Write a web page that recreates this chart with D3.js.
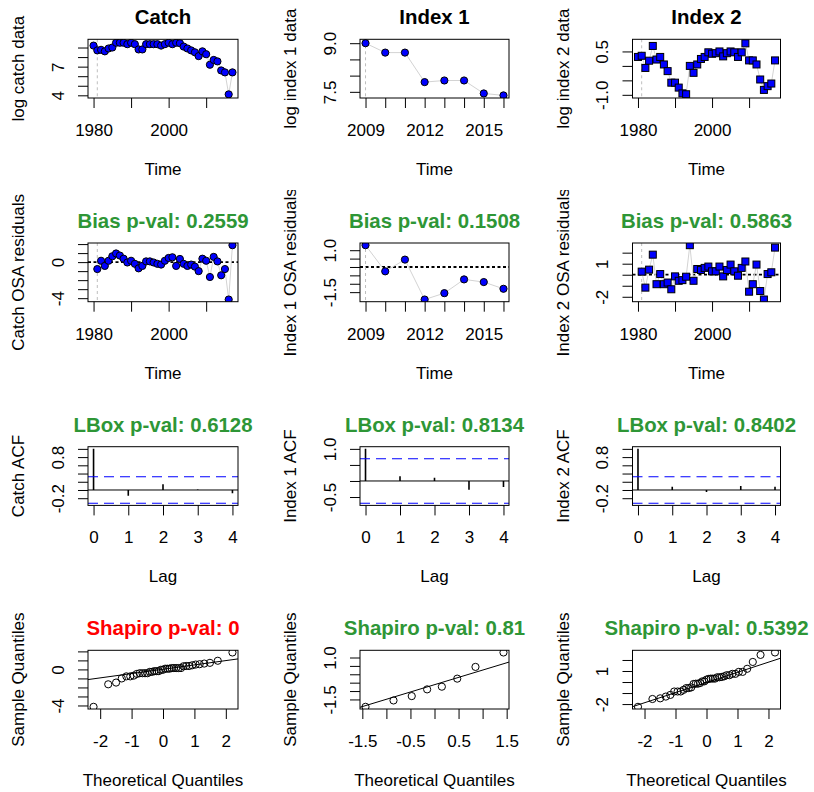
<!DOCTYPE html>
<html>
<head>
<meta charset="utf-8">
<title>OSA residual diagnostics</title>
<script src="https://cdnjs.cloudflare.com/ajax/libs/d3/7.8.5/d3.min.js"></script>
<style>
  html, body { margin: 0; padding: 0; background: #fff; }
  #chart svg { display: block; }
</style>
</head>
<body>
<div id="chart"></div>
<script>
// values
const catchYears = [1980, 1981, 1982, 1983, 1984, 1985, 1986, 1987, 1988, 1989, 1990, 1991, 1992,
  1993, 1994, 1995, 1996, 1997, 1998, 1999, 2000, 2001, 2002, 2003, 2004, 2005, 2006, 2007,
  2008, 2009, 2010, 2011, 2012, 2013, 2014, 2015, 2016, 2017]
const catchLog = [9.2, 8.7, 8.76, 8.6, 8.9, 9.0, 9.5, 9.5, 9.5, 9.35, 9.5, 9.35, 8.8, 8.8,
  9.35, 9.35, 9.35, 9.35, 9.2, 9.35, 9.5, 9.35, 9.5, 9.45, 9.1, 8.9, 8.7, 8.5, 8.1, 8.6, 8.3,
  7.2, 7.7, 7.55, 6.6, 6.4, 4.1, 6.4]
const residYears = [1981, 1982, 1983, 1984, 1985, 1986, 1987, 1988, 1989, 1990, 1991, 1992,
  1993, 1994, 1995, 1996, 1997, 1998, 1999, 2000, 2001, 2002, 2003, 2004, 2005, 2006, 2007,
  2008, 2009, 2010, 2011, 2012, 2013, 2014, 2015, 2016, 2017]
const catchResid = [-0.77, 0.15, -0.42, 0.15, 0.65, 0.96, 0.73, 0.38, -0.04, 0.15, -0.19,
  -0.69, -0.42, 0.08, 0.08, -0.04, -0.19, -0.27, 0.15, 0.46, 0.54, -0.42, 0.35, -0.19, -0.42,
  -0.27, -0.5, -1.0, 0.38, 0.15, -1.65, 0.58, 0.08, -1.46, -0.77, -4.15, 1.88]

const index1Years = [2009, 2010, 2011, 2012, 2013, 2014, 2015, 2016]
const index1Log = [9.0, 8.71, 8.71, 7.8, 7.85, 7.85, 7.45, 7.39]
const index1Resid = [1.3, -0.26, 0.44, -1.94, -1.56, -0.74, -0.9, -1.3]

const index2Years = catchYears
const index2Log = [0.31, 0.35, -0.07, 0.18, 0.69, 0.22, 0.31, 0.05, -0.18, -0.58, -0.58,
  -0.75, -0.95, -0.98, 0.0, -0.24, 0.05, 0.24, 0.31, 0.47, 0.42, 0.44, 0.5, 0.33, 0.44, 0.5,
  0.47, 0.31, 0.47, 0.78, 0.19, 0.19, 0.05, -0.47, -0.83, -0.7, -0.61, 0.19]
const index2Resid = [0.28, -1.17, 0.46, 1.82, -0.86, 0.06, -0.86, -0.71, -1.32, -0.15, -0.55,
  -0.49, -0.18, 2.68, -0.55, 0.52, 0.43, 0.62, 0.74, 0.31, 0.31, 0.74, -0.15, 0.43, 0.92,
  0.31, -0.09, 0.62, 1.2, -1.54, -0.86, 0.92, -1.48, -2.25, 0.06, 0.22, 2.46]

const lags = [0, 1, 2, 3, 4]
const catchAcf = [1, -0.14, 0.14, 0.01, -0.08]
const index1Acf = [1, 0.15, 0.1, -0.27, -0.19]
const index2Acf = [1, 0.08, -0.05, 0.1, 0.08]
const acfBounds = [0.322, 0.693, 0.322]

// theoretical normal quantiles on the qq x axis (37 and 8 points)
const theo37 = [-2.211, -1.744, -1.494, -1.313, -1.167, -1.042, -0.932, -0.832, -0.740, -0.653,
  -0.572, -0.494, -0.419, -0.346, -0.275, -0.204, -0.136, -0.068, 0, 0.068, 0.136, 0.204,
  0.275, 0.346, 0.419, 0.494, 0.572, 0.653, 0.740, 0.832, 0.932, 1.042, 1.167, 1.313, 1.494,
  1.744, 2.211]
const theo8 = [-1.434, -0.852, -0.473, -0.153, 0.153, 0.473, 0.852, 1.434]
const qqLines = [[0.02, 0.48], [-0.62, 0.87], [-0.04, 0.92]] // intercept, slope

const colTitles = ['Catch', 'Index 1', 'Index 2']
const biasP = ['0.2559', '0.1508', '0.5863']
const lboxP = ['0.6128', '0.8134', '0.8402']
const shapiroP = ['0', '0.81', '0.5392']
const shapiroCol = ['red', 'green', 'green']

// tick values and the labels R kept
const yearTicks = [1980, 1990, 2000, 2010]
const yearTickText = ['1980', '', '2000', '']
const idx1YearTicks = [2009, 2010, 2011, 2012, 2013, 2014, 2015, 2016]
const idx1YearTickText = ['2009', '', '', '2012', '', '', '2015', '']
const lagTickText = ['0', '1', '2', '3', '4']
const qqTicks2 = [-2, -1, 0, 1, 2]
const qqTicks2Text = ['-2', '-1', '0', '1', '2']
const qqTicks15 = [-1.5, -1, -0.5, 0, 0.5, 1, 1.5]
const qqTicks15Text = ['-1.5', '', '-0.5', '', '0.5', '', '1.5']

const catchLogTicks = [4, 5, 6, 7, 8, 9]
const catchLogTickText = ['4', '', '', '7', '', '']
const idx1LogTicks = [7.5, 8, 8.5, 9]
const idx1LogTickText = ['7.5', '', '', '9.0']
const idx2LogTicks = [-1, -0.5, 0, 0.5]
const idx2LogTickText = ['-1.0', '', '', '0.5']
const catchResTicks = [-4, -3, -2, -1, 0, 1, 2]
const catchResTickText = ['-4', '', '', '', '0', '', '']
const idx1ResTicks = [-1.5, -1, -0.5, 0, 0.5, 1]
const idx1ResTickText = ['-1.5', '', '', '', '', '1.0']
const idx2ResTicks = [-2, -1, 0, 1, 2]
const idx2ResTickText = ['-2', '', '', '1', '']
const acfTicks = [-0.2, 0, 0.2, 0.4, 0.6, 0.8, 1.0]
const acfTickText = ['-0.2', '', '', '', '', '0.8', '']
const acf1Ticks = [-0.5, 0, 0.5, 1.0]
const acf1TickText = ['-0.5', '', '', '1.0']

// ---- layout ----
const W = 814, H = 792
const colW = W / 3, rowH = 203.67
const colLeft = [88, 360, 632.5]
const colRight = [238, 509, 780.5]
const rowTop = [39.3, 243, 446.7, 650.3]
const boxH = 58.7
const figAbove = 53
const FONT = '"Liberation Sans", Arial, sans-serif'
const AXIS_SIZE = 17, TITLE_SIZE = 20.4
const GREEN = '#2e9636'

const svg = d3.select('#chart').append('svg')
  .attr('width', W).attr('height', H)
  .attr('font-family', FONT)
const defs = svg.append('defs')
svg.append('rect').attr('width', W).attr('height', H).attr('fill', '#fff')

const pad = (vals) => {
  const [a, b] = d3.extent(vals)
  const e = (b - a) * 0.04
  return [a - e, b + e]
}

function makePanel(r, c, opt) {
  const x0 = colLeft[c], x1 = colRight[c]
  const y0 = rowTop[r], y1 = rowTop[r] + boxH
  const id = 'p' + r + c
  defs.append('clipPath').attr('id', id + 'fig').append('rect')
    .attr('x', c * colW).attr('y', y0 - figAbove).attr('width', colW).attr('height', rowH)
  defs.append('clipPath').attr('id', id + 'box').append('rect')
    .attr('x', x0).attr('y', y0).attr('width', x1 - x0).attr('height', y1 - y0)

  const fig = svg.append('g').attr('clip-path', `url(#${id}fig)`)
  const plot = fig.append('g').attr('clip-path', `url(#${id}box)`)
  const x = d3.scaleLinear().domain(opt.xDomain).range([x0, x1])
  const y = d3.scaleLinear().domain(opt.yDomain).range([y1, y0])

  // bottom axis
  const bx = fig.append('g').attr('transform', `translate(0,${y1})`)
    .call(d3.axisBottom(x).tickValues(opt.xTicks).tickSize(10).tickSizeOuter(0)
      .tickFormat((d, i) => opt.xTickText[i]))
  bx.select('.domain').remove()
  bx.selectAll('text').attr('y', 38).attr('dy', null)
  // left axis, labels parallel to the axis
  const by = fig.append('g').attr('transform', `translate(${x0},0)`)
    .call(d3.axisLeft(y).tickValues(opt.yTicks).tickSize(10).tickSizeOuter(0)
      .tickFormat((d, i) => opt.yTickText[i]))
  by.select('.domain').remove()
  by.selectAll('text').attr('dy', null).attr('x', 0).attr('y', -24.5)
    .attr('transform', 'rotate(-90)').attr('text-anchor', 'middle')
  fig.selectAll('.tick line').attr('stroke', '#000')
  fig.selectAll('.tick text').attr('fill', '#000')
    .attr('font-size', AXIS_SIZE).attr('font-family', FONT)

  fig.append('text').attr('x', (x0 + x1) / 2).attr('y', y1 + 77)
    .attr('text-anchor', 'middle').attr('font-size', AXIS_SIZE).text(opt.xLabel)
  fig.append('text')
    .attr('transform', `translate(${x0 - 64},${(y0 + y1) / 2}) rotate(-90)`)
    .attr('text-anchor', 'middle').attr('font-size', AXIS_SIZE).text(opt.yLabel)
  fig.append('text').attr('x', (x0 + x1) / 2).attr('y', y0 - 15)
    .attr('text-anchor', 'middle').attr('font-size', TITLE_SIZE).attr('font-weight', 'bold')
    .attr('fill', opt.titleColor || '#000').text(opt.title)

  const panel = { fig, plot, x, y, x0, x1, y0, y1 }
  panel.finish = () => {
    fig.append('rect').attr('x', x0).attr('y', y0).attr('width', x1 - x0).attr('height', y1 - y0)
      .attr('fill', 'none').attr('stroke', '#000').attr('stroke-width', 1)
  }
  return panel
}

function drawSeries(p, years, vals, startYear, shape, zeroLine) {
  if (zeroLine) {
    p.plot.append('line').attr('x1', p.x0).attr('x2', p.x1)
      .attr('y1', p.y(0)).attr('y2', p.y(0))
      .attr('stroke', '#000').attr('stroke-width', 1.8).attr('stroke-dasharray', '3,2.5')
  }
  p.plot.append('line').attr('x1', p.x(startYear)).attr('x2', p.x(startYear))
    .attr('y1', p.y0).attr('y2', p.y1)
    .attr('stroke', '#bebebe').attr('stroke-dasharray', '3,3')
  const pts = years.map((yr, i) => [yr, vals[i]])
  p.plot.append('path').datum(pts)
    .attr('d', d3.line().x(d => p.x(d[0])).y(d => p.y(d[1])))
    .attr('fill', 'none').attr('stroke', '#d3d3d3').attr('stroke-width', 1)
  if (shape === 'square') {
    p.plot.selectAll('rect.pt').data(pts).join('rect').attr('class', 'pt')
      .attr('x', d => p.x(d[0]) - 3.5).attr('y', d => p.y(d[1]) - 3.5)
      .attr('width', 7).attr('height', 7)
      .attr('fill', '#0000ff').attr('stroke', '#000').attr('stroke-width', 1)
  } else {
    p.plot.selectAll('circle.pt').data(pts).join('circle').attr('class', 'pt')
      .attr('cx', d => p.x(d[0])).attr('cy', d => p.y(d[1])).attr('r', 3.6)
      .attr('fill', '#0000ff').attr('stroke', '#000').attr('stroke-width', 1)
  }
  p.finish()
}

function drawAcf(p, acf, bound) {
  p.plot.append('line').attr('x1', p.x0).attr('x2', p.x1).attr('y1', p.y(0)).attr('y2', p.y(0))
    .attr('stroke', '#000')
  p.plot.selectAll('line.bar').data(lags).join('line').attr('class', 'bar')
    .attr('x1', d => p.x(d)).attr('x2', d => p.x(d))
    .attr('y1', p.y(0)).attr('y2', (d, i) => p.y(acf[i]))
    .attr('stroke', '#000').attr('stroke-width', 1.6)
  p.plot.selectAll('line.ci').data([bound, -bound]).join('line').attr('class', 'ci')
    .attr('x1', p.x0).attr('x2', p.x1).attr('y1', d => p.y(d)).attr('y2', d => p.y(d))
    .attr('stroke', '#0000ff').attr('stroke-width', 1.2).attr('stroke-dasharray', '10,6')
  p.finish()
}

function drawQQ(p, theo, resid, line) {
  const sorted = d3.sort(resid)
  p.plot.append('line')
    .attr('x1', p.x0).attr('y1', p.y(line[0] + line[1] * p.x.invert(p.x0)))
    .attr('x2', p.x1).attr('y2', p.y(line[0] + line[1] * p.x.invert(p.x1)))
    .attr('stroke', '#000')
  p.plot.selectAll('circle.qq').data(theo).join('circle').attr('class', 'qq')
    .attr('cx', d => p.x(d)).attr('cy', (d, i) => p.y(sorted[i])).attr('r', 3.6)
    .attr('fill', 'none').attr('stroke', '#000').attr('stroke-width', 1)
  p.finish()
}

// ---- row 1: data ----
const longX = pad([catchYears[0], catchYears[catchYears.length - 1]])
const shortX = pad([index1Years[0], index1Years[index1Years.length - 1]])

drawSeries(makePanel(0, 0, {
  xDomain: longX, yDomain: [3.72, 9.86], xTicks: yearTicks, xTickText: yearTickText,
  yTicks: catchLogTicks, yTickText: catchLogTickText,
  xLabel: 'Time', yLabel: 'log catch data', title: colTitles[0]
}), catchYears, catchLog, residYears[0], 'circle', false)

drawSeries(makePanel(0, 1, {
  xDomain: shortX, yDomain: [7.31, 9.12], xTicks: idx1YearTicks, xTickText: idx1YearTickText,
  yTicks: idx1LogTicks, yTickText: idx1LogTickText,
  xLabel: 'Time', yLabel: 'log index 1 data', title: colTitles[1]
}), index1Years, index1Log, index1Years[0], 'circle', false)

drawSeries(makePanel(0, 2, {
  xDomain: longX, yDomain: [-1.11, 0.92], xTicks: yearTicks, xTickText: yearTickText,
  yTicks: idx2LogTicks, yTickText: idx2LogTickText,
  xLabel: 'Time', yLabel: 'log index 2 data', title: colTitles[2]
}), index2Years, index2Log, residYears[0], 'square', false)

// ---- row 2: OSA residuals ----
drawSeries(makePanel(1, 0, {
  xDomain: longX, yDomain: pad(catchResid), xTicks: yearTicks, xTickText: yearTickText,
  yTicks: catchResTicks, yTickText: catchResTickText,
  xLabel: 'Time', yLabel: 'Catch OSA residuals', title: 'Bias p-val: ' + biasP[0], titleColor: GREEN
}), residYears, catchResid, residYears[0], 'circle', true)

drawSeries(makePanel(1, 1, {
  xDomain: shortX, yDomain: pad(index1Resid), xTicks: idx1YearTicks, xTickText: idx1YearTickText,
  yTicks: idx1ResTicks, yTickText: idx1ResTickText,
  xLabel: 'Time', yLabel: 'Index 1 OSA residuals', title: 'Bias p-val: ' + biasP[1], titleColor: GREEN
}), index1Years, index1Resid, index1Years[0], 'circle', true)

drawSeries(makePanel(1, 2, {
  xDomain: longX, yDomain: pad(index2Resid), xTicks: yearTicks, xTickText: yearTickText,
  yTicks: idx2ResTicks, yTickText: idx2ResTickText,
  xLabel: 'Time', yLabel: 'Index 2 OSA residuals', title: 'Bias p-val: ' + biasP[2], titleColor: GREEN
}), residYears, index2Resid, residYears[0], 'square', true)

// ---- row 3: ACF ----
const acfSets = [catchAcf, index1Acf, index2Acf]
const acfNames = ['Catch ACF', 'Index 1 ACF', 'Index 2 ACF']
acfSets.forEach((acf, c) => {
  const b = acfBounds[c]
  drawAcf(makePanel(2, c, {
    xDomain: pad(lags), yDomain: pad([-b, b, ...acf]),
    xTicks: lags, xTickText: lagTickText,
    yTicks: c === 1 ? acf1Ticks : acfTicks, yTickText: c === 1 ? acf1TickText : acfTickText,
    xLabel: 'Lag', yLabel: acfNames[c], title: 'LBox p-val: ' + lboxP[c], titleColor: GREEN
  }), acf, b)
})

// ---- row 4: normal QQ ----
const qqSets = [[theo37, catchResid], [theo8, index1Resid], [theo37, index2Resid]]
const qqYTicks = [[catchResTicks, catchResTickText], [idx1ResTicks, idx1ResTickText], [idx2ResTicks, idx2ResTickText]]
qqSets.forEach(([theo, resid], c) => {
  drawQQ(makePanel(3, c, {
    xDomain: pad(theo), yDomain: pad(resid),
    xTicks: c === 1 ? qqTicks15 : qqTicks2, xTickText: c === 1 ? qqTicks15Text : qqTicks2Text,
    yTicks: qqYTicks[c][0], yTickText: qqYTicks[c][1],
    xLabel: 'Theoretical Quantiles', yLabel: 'Sample Quantiles',
    title: 'Shapiro p-val: ' + shapiroP[c], titleColor: shapiroCol[c] === 'red' ? '#ff0000' : GREEN
  }), theo, resid, qqLines[c])
})
</script>
</body>
</html>
